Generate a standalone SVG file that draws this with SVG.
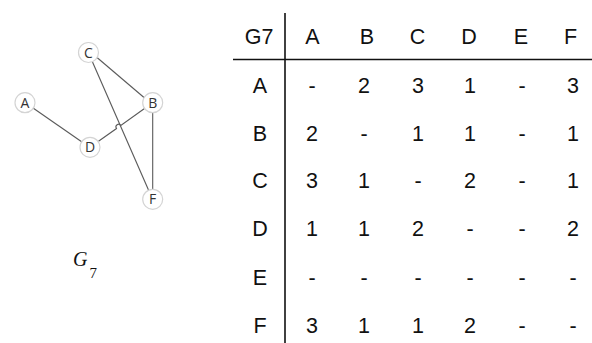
<svg xmlns="http://www.w3.org/2000/svg" width="592" height="343" viewBox="0 0 592 343">
<style>
.node circle{fill:#fff;stroke:#d4d4d4;stroke-width:1.2}
.node text{font-family:"Open Sans","Liberation Sans",sans-serif;font-size:14px;fill:#333;text-anchor:middle}
.edge{stroke:#5a5a5a;stroke-width:1.1;fill:none}
.t{font-family:"Liberation Sans",Arial,sans-serif;font-size:21.5px;fill:#111;text-anchor:middle}
.rule{stroke:#111;stroke-width:1.6}
</style>
<rect width="592" height="343" fill="#fff"/>
<g id="connectors">
<line class="edge" x1="97" y1="57.5" x2="144" y2="97.5"/>
<line class="edge" x1="92.5" y1="62" x2="148.5" y2="190"/>
<line class="edge" x1="33" y1="108" x2="82" y2="142"/>
<path class="edge" d="M98.5 141.3 L116.5 128.5 A2.5 2.5 0 0 1 120.8 125.4 L144.5 108.5"/>
<line class="edge" x1="152.7" y1="112.7" x2="152.7" y2="189.3"/>
</g>
<g id="node-C" class="node"><circle cx="88.5" cy="52.5" r="10"/><text x="88.5" y="57.5">C</text></g>
<g id="node-A" class="node"><circle cx="25" cy="102.7" r="10"/><text x="25" y="107.7">A</text></g>
<g id="node-B" class="node"><circle cx="152.7" cy="102.7" r="10"/><text x="152.7" y="107.7">B</text></g>
<g id="node-D" class="node"><circle cx="90" cy="147.3" r="10"/><text x="90" y="152.3">D</text></g>
<g id="node-F" class="node"><circle cx="152.7" cy="199.3" r="10"/><text x="152.7" y="204.3">F</text></g>
<g id="graph-label">
<text x="73" y="265.5" font-family="Liberation Serif,serif" font-style="italic" font-size="20" fill="#111">G</text>
<text x="89.5" y="278" font-family="Liberation Serif,serif" font-size="15" fill="#111">7</text>
</g>
<g id="table">
<line class="rule" x1="285" y1="13" x2="285" y2="343"/>
<line class="rule" x1="233" y1="59.5" x2="592" y2="59.5"/>
<g id="header">
<text class="t" x="259" y="44">G7</text>
<text class="t" x="312.5" y="44">A</text>
<text class="t" x="367" y="44">B</text>
<text class="t" x="417.5" y="44">C</text>
<text class="t" x="469" y="44">D</text>
<text class="t" x="521" y="44">E</text>
<text class="t" x="570.5" y="44">F</text>
</g>
<g id="row-A">
<text class="t" x="260" y="93">A</text>
<text class="t" x="312" y="93">-</text><text class="t" x="364" y="93">2</text><text class="t" x="418" y="93">3</text><text class="t" x="470" y="93">1</text><text class="t" x="522" y="93">-</text><text class="t" x="573" y="93">3</text>
</g>
<g id="row-B">
<text class="t" x="260" y="141">B</text>
<text class="t" x="312" y="141">2</text><text class="t" x="364" y="141">-</text><text class="t" x="418" y="141">1</text><text class="t" x="470" y="141">1</text><text class="t" x="522" y="141">-</text><text class="t" x="573" y="141">1</text>
</g>
<g id="row-C">
<text class="t" x="260" y="188">C</text>
<text class="t" x="312" y="188">3</text><text class="t" x="364" y="188">1</text><text class="t" x="418" y="188">-</text><text class="t" x="470" y="188">2</text><text class="t" x="522" y="188">-</text><text class="t" x="573" y="188">1</text>
</g>
<g id="row-D">
<text class="t" x="260" y="236">D</text>
<text class="t" x="312" y="236">1</text><text class="t" x="364" y="236">1</text><text class="t" x="418" y="236">2</text><text class="t" x="470" y="236">-</text><text class="t" x="522" y="236">-</text><text class="t" x="573" y="236">2</text>
</g>
<g id="row-E">
<text class="t" x="260" y="285">E</text>
<text class="t" x="312" y="285">-</text><text class="t" x="364" y="285">-</text><text class="t" x="418" y="285">-</text><text class="t" x="470" y="285">-</text><text class="t" x="522" y="285">-</text><text class="t" x="573" y="285">-</text>
</g>
<g id="row-F">
<text class="t" x="260" y="333">F</text>
<text class="t" x="312" y="333">3</text><text class="t" x="364" y="333">1</text><text class="t" x="418" y="333">1</text><text class="t" x="470" y="333">2</text><text class="t" x="522" y="333">-</text><text class="t" x="573" y="333">-</text>
</g>
</g>
</svg>
